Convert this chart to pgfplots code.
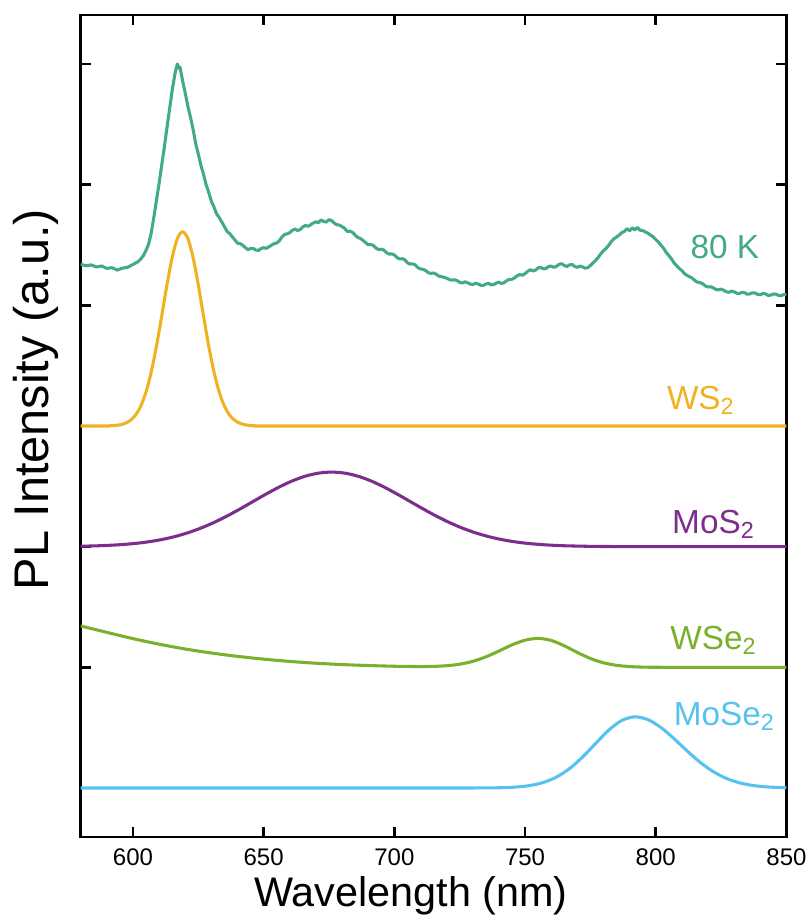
\documentclass[border=0pt]{standalone}
\usepackage{fontspec}
\setmainfont{Liberation Sans}
\usepackage{pgfplots}
\pgfplotsset{compat=1.18}

\definecolor{lowT}{RGB}{66,170,134}
\definecolor{cWS}{RGB}{238,178,35}
\definecolor{cMoS}{RGB}{125,45,140}
\definecolor{cWSe}{RGB}{122,176,44}
\definecolor{cMoSe}{RGB}{85,195,238}

\begin{document}
\begin{tikzpicture}
% fixed page frame around the axis box (axis box lower-left corner at the origin)
\path[use as bounding box] (-60.5pt,-60.75pt) rectangle (547.7pt,627.75pt);
\begin{axis}[
  scale only axis,
  width=529.35pt, height=616.5pt,
  xmin=580, xmax=850, ymin=-0.406, ymax=6.406,
  xtick={600,650,700,750,800,850},
  ytick={0,1,2,3,4,5,6}, yticklabels={},
  tick align=inside,
  major tick length=7.5pt,
  every tick/.style={black, line width=2pt},
  axis line style={line width=2.2pt},
  /pgf/number format/assume math mode=true,
  xticklabel style={font=\fontsize{18}{21}\selectfont, yshift=-5pt},
  xlabel={Wavelength (nm)},
  ylabel={PL Intensity (a.u.)},
  xlabel style={font=\fontsize{31}{36}\selectfont, at={(axis description cs:0.468,-0.0718)}, anchor=center},
  ylabel style={font=\fontsize{36.5}{42}\selectfont, at={(axis description cs:-0.0640,0.532)}, anchor=center},
  every axis plot/.append style={line width=2.3pt, line join=round},
]

% PL spectrum measured at 80 K
\addplot[color=lowT, no marks] coordinates {
(580,4.340) (582,4.328) (584,4.335) (586,4.318) (588,4.326) (590,4.306)
(592,4.312) (594,4.292) (596,4.308) (598,4.316) (600,4.338) (602,4.362)
(603,4.385) (604,4.412) (605,4.455) (606,4.508) (607,4.600) (608,4.730)
(609,4.870) (610,5.010) (611,5.160) (612,5.310) (613,5.470) (614,5.625)
(615,5.780) (616,5.910) (616.5,5.960) (617,6.000) (617.5,5.965) (618,5.975)
(619,5.860) (620,5.760) (621,5.650) (622,5.560) (623,5.460) (624,5.340)
(625,5.255) (626,5.160) (627,5.085) (628,5.000) (629,4.935) (630,4.862)
(631,4.815) (632,4.758) (633,4.728) (634,4.690) (635,4.652) (636,4.612)
(637,4.595) (638,4.568) (639,4.542) (640,4.515) (641,4.512) (642,4.498)
(643,4.478) (644,4.462) (645,4.470) (646,4.472) (647,4.458) (648,4.455)
(649,4.470) (650,4.478) (651,4.472) (652,4.485) (653,4.498) (654,4.512)
(655,4.516) (656,4.535) (657,4.566) (658,4.588) (659,4.592) (660,4.602)
(661,4.622) (662,4.632) (663,4.620) (664,4.628) (665,4.650) (666,4.662)
(667,4.655) (668,4.668) (669,4.682) (670,4.692) (671,4.686) (672,4.708)
(673,4.695) (674,4.690) (675,4.710) (676,4.702) (677,4.682) (678,4.668)
(679,4.665) (680,4.652) (681,4.638) (682,4.612) (683,4.615) (684,4.605)
(685,4.582) (686,4.562) (687,4.555) (688,4.538) (689,4.520) (690,4.502)
(691,4.505) (692,4.495) (693,4.474) (694,4.462) (695,4.465) (696,4.458)
(697,4.436) (698,4.425) (699,4.426) (700,4.418) (701,4.396) (702,4.385)
(703,4.386) (704,4.378) (705,4.352) (706,4.342) (707,4.344) (708,4.335)
(709,4.312) (710,4.302) (711,4.298) (712,4.288) (713,4.270) (714,4.265)
(715,4.268) (716,4.258) (717,4.242) (718,4.238) (719,4.232) (720,4.225)
(721,4.214) (722,4.208) (723,4.212) (724,4.205) (725,4.190) (726,4.185)
(727,4.195) (728,4.188) (729,4.176) (730,4.172) (731,4.182) (732,4.178)
(733,4.166) (734,4.165) (735,4.176) (736,4.182) (737,4.170) (738,4.172)
(739,4.185) (740,4.192) (741,4.180) (742,4.188) (743,4.205) (744,4.215)
(745,4.216) (746,4.228) (747,4.245) (748,4.255) (749,4.250) (750,4.262)
(751,4.282) (752,4.295) (753,4.285) (754,4.292) (755,4.310) (756,4.315)
(757,4.302) (758,4.305) (759,4.322) (760,4.325) (761,4.315) (762,4.322)
(763,4.340) (764,4.345) (765,4.330) (766,4.322) (767,4.335) (768,4.338)
(769,4.322) (770,4.315) (771,4.325) (772,4.318) (773,4.308) (774,4.312)
(775,4.330) (776,4.352) (777,4.372) (778,4.398) (779,4.428) (780,4.452)
(781,4.472) (782,4.498) (783,4.528) (784,4.552) (785,4.566) (786,4.582)
(787,4.602) (788,4.612) (789,4.635) (790,4.618) (791,4.642) (792,4.625)
(793,4.645) (794,4.622) (795,4.620) (796,4.608) (797,4.598) (798,4.582)
(799,4.568) (800,4.545) (801,4.525) (802,4.498) (803,4.472) (804,4.438)
(805,4.412) (806,4.385) (807,4.352) (808,4.328) (809,4.305) (810,4.288)
(811,4.262) (812,4.248) (813,4.236) (814,4.225) (815,4.205) (816,4.192)
(817,4.188) (818,4.178) (819,4.160) (820,4.152) (821,4.154) (822,4.145)
(823,4.132) (824,4.128) (825,4.134) (826,4.125) (827,4.112) (828,4.108)
(829,4.118) (830,4.112) (831,4.100) (832,4.098) (833,4.108) (834,4.105)
(835,4.092) (836,4.095) (837,4.104) (838,4.102) (839,4.090) (840,4.088)
(841,4.098) (842,4.095) (843,4.082) (844,4.085) (845,4.094) (846,4.092)
(847,4.082) (848,4.080) (849,4.090) (850,4.088)
};

% WS2 reference spectrum (offset 3)
\addplot[color=cWS, no marks, smooth] coordinates {
(580,3.000) (590,3.000) (591,3.0015) (593,3.004) (595,3.0096) (597,3.022)
(599,3.046) (601,3.090) (603,3.165) (605,3.282) (607,3.448) (609,3.662)
(611,3.911) (613,4.169) (615,4.396) (617,4.554) (619,4.610) (621,4.554)
(623,4.396) (625,4.169) (627,3.911) (629,3.662) (631,3.448) (633,3.282)
(635,3.165) (637,3.090) (639,3.046) (641,3.022) (643,3.0096) (645,3.004)
(647,3.0015) (650,3.000) (700,3.000) (850,3.000)
};

% MoS2 reference spectrum (offset 2)
\addplot[color=cMoS, no marks, smooth] coordinates {
(580,2.0037) (586,2.0069) (591,2.0112) (596,2.0177) (601,2.0271) (606,2.0406)
(611,2.0591) (616,2.0836) (621,2.1151) (626,2.1541) (631,2.2006) (636,2.2541)
(641,2.3129) (646,2.3748) (651,2.4367) (656,2.4948) (661,2.5454) (666,2.5846)
(671,2.6095) (676,2.6180) (681,2.6095) (686,2.5846) (691,2.5454) (696,2.4948)
(701,2.4367) (706,2.3748) (711,2.3129) (716,2.2541) (721,2.2006) (726,2.1541)
(731,2.1151) (736,2.0836) (741,2.0591) (746,2.0406) (751,2.0271) (756,2.0177)
(761,2.0112) (766,2.0069) (776,2.0024) (786,2.0007) (800,2.000) (850,2.000)
};

% WSe2 reference spectrum (offset 1)
\addplot[color=cWSe, no marks, smooth] coordinates {
(580,1.343) (590,1.290) (600,1.238) (610,1.192) (620,1.152) (630,1.119)
(640,1.091) (650,1.068) (660,1.049) (670,1.034) (680,1.023) (690,1.015)
(700,1.009) (705,1.0074) (710,1.0064) (715,1.0081) (720,1.0135) (725,1.0262)
(730,1.0497) (735,1.087) (740,1.135) (745,1.186) (750,1.225) (755,1.240)
(760,1.2229) (765,1.1785) (770,1.1233) (775,1.0735) (780,1.0378) (785,1.0167)
(790,1.0064) (795,1.0021) (800,1.0006) (820,1.000) (850,1.000)
};

% MoSe2 reference spectrum (offset 0)
\addplot[color=cMoSe, no marks, smooth] coordinates {
(580,0.000) (700,0.000) (732,0.0004) (737,0.0011) (742,0.0032) (747,0.0087)
(752,0.0211) (757,0.0461) (762,0.0907) (767,0.1608) (772,0.2565) (777,0.3690)
(782,0.4790) (787,0.5600) (792,0.5900) (797,0.5664) (802,0.5011) (807,0.4086)
(812,0.3071) (817,0.2126) (822,0.1358) (827,0.0798) (832,0.0433) (837,0.0216)
(842,0.0100) (847,0.0042) (850,0.0024)
};

\node[anchor=base west, text=lowT, font=\fontsize{25}{30}\selectfont, inner sep=0pt] at (axis cs:813.2,4.384) {80 K};
\node[anchor=base west, text=cWS, font=\fontsize{25}{30}\selectfont, inner sep=0pt] at (axis cs:804.2,3.14) {WS\textsubscript{2}};
\node[anchor=base west, text=cMoS, font=\fontsize{25}{30}\selectfont, inner sep=0pt] at (axis cs:806.2,2.11) {MoS\textsubscript{2}};
\node[anchor=base west, text=cWSe, font=\fontsize{25}{30}\selectfont, inner sep=0pt] at (axis cs:805.5,1.144) {WSe\textsubscript{2}};
\node[anchor=base west, text=cMoSe, font=\fontsize{25}{30}\selectfont, inner sep=0pt] at (axis cs:806.8,0.514) {MoSe\textsubscript{2}};
\end{axis}
\end{tikzpicture}
\end{document}
